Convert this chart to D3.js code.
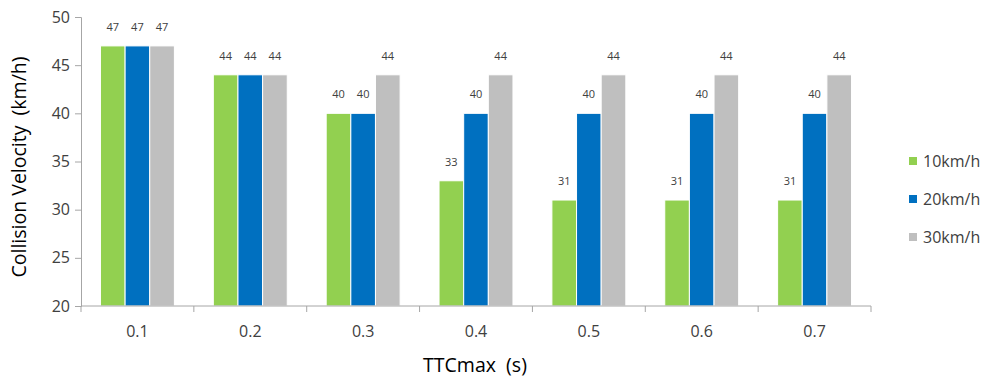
<!DOCTYPE html>
<html>
<head>
<meta charset="utf-8">
<script src="https://cdn.jsdelivr.net/npm/d3@7"></script>
<style>
  html, body { margin: 0; padding: 0; background: #fff; }
  svg text { font-family: "Open Sans", "DejaVu Sans", sans-serif; }
</style>
</head>
<body>
<svg id="chart" width="984" height="377"></svg>
<script>
// TTCmax categories and collision velocities per initial speed
const categories = ["0.1", "0.2", "0.3", "0.4", "0.5", "0.6", "0.7"];
const seriesNames = ["10km/h", "20km/h", "30km/h"];
const speed10 = [47, 44, 40, 33, 31, 31, 31];
const speed20 = [47, 44, 40, 40, 40, 40, 40];
const speed30 = [47, 44, 44, 44, 44, 44, 44];
const yTicks = [20, 25, 30, 35, 40, 45, 50];
const colors = ["#92D050", "#0070C0", "#BFBFBF"];

const seriesValues = [speed10, speed20, speed30];

const svg = d3.select("#chart");
const m = { left: 81, right: 113, top: 17, bottom: 71 };
const W = 984, H = 377;
const plotW = W - m.left - m.right;
const plotH = H - m.top - m.bottom;

const g = svg.append("g").attr("transform", `translate(${m.left},${m.top})`);

const x0 = d3.scaleBand().domain(categories).range([0, plotW]).paddingInner(0.345).paddingOuter(0.1725);
const x1 = d3.scaleBand().domain(seriesNames).range([0, x0.bandwidth()]).padding(0);
const y = d3.scaleLinear().domain([20, 50]).range([plotH, 0]);

// Bars
const groups = g.selectAll("g.cat")
  .data(categories)
  .join("g")
  .attr("class", "cat")
  .attr("transform", c => `translate(${x0(c)},0)`);

groups.selectAll("rect")
  .data((c, i) => seriesNames.map((s, k) => ({ s, k, v: seriesValues[k][i] })))
  .join("rect")
  .attr("x", d => x1(d.s))
  .attr("y", d => y(d.v))
  .attr("width", x1.bandwidth())
  .attr("height", d => plotH - y(d.v))
  .attr("fill", d => colors[d.k])
  .attr("stroke", "#fff")
  .attr("stroke-width", 1);

// Value labels
groups.selectAll("text.val")
  .data((c, i) => seriesNames.map((s, k) => ({ s, k, v: seriesValues[k][i] })))
  .join("text")
  .attr("class", "val")
  .attr("x", d => x1(d.s) + x1.bandwidth() / 2)
  .attr("y", d => y(d.v) - 15)
  .attr("text-anchor", "middle")
  .attr("font-size", 11)
  .attr("fill", "#404040")
  .text(d => d.v);

// Y axis
const yAxis = g.append("g")
  .call(d3.axisLeft(y).tickValues(yTicks).tickSize(6).tickPadding(5));
yAxis.select(".domain").attr("stroke", "#A6A6A6");
yAxis.selectAll(".tick line").attr("stroke", "#A6A6A6");
yAxis.selectAll(".tick text").attr("font-size", 16).attr("fill", "#404040")
  .attr("font-family", "'Open Sans', 'DejaVu Sans', sans-serif");

// X axis with boundary ticks between categories
const xAxisG = g.append("g").attr("transform", `translate(0,${plotH})`);
xAxisG.append("line")
  .attr("x1", 0).attr("x2", plotW)
  .attr("stroke", "#A6A6A6");
const step = x0.step();
d3.range(categories.length + 1).forEach(i => {
  xAxisG.append("line")
    .attr("x1", i * step).attr("x2", i * step)
    .attr("y1", 0).attr("y2", 6)
    .attr("stroke", "#A6A6A6");
});
xAxisG.selectAll("text.xl")
  .data(categories)
  .join("text")
  .attr("class", "xl")
  .attr("x", c => x0(c) + x0.bandwidth() / 2)
  .attr("y", 31)
  .attr("text-anchor", "middle")
  .attr("font-size", 16)
  .attr("fill", "#404040")
  .text(c => c);

// Axis titles
svg.append("text")
  .attr("x", 475)
  .attr("y", 372)
  .attr("text-anchor", "middle")
  .attr("font-size", 19.5)
  .attr("fill", "#000")
  .style("white-space", "pre")
  .text("TTCmax  (s)");

svg.append("text")
  .attr("transform", "translate(26,167) rotate(-90)")
  .attr("text-anchor", "middle")
  .attr("font-size", 19.5)
  .attr("fill", "#000")
  .style("white-space", "pre")
  .text("Collision Velocity  (km/h)");

// Legend
const legend = svg.append("g").attr("transform", "translate(909,161)");
seriesNames.forEach((s, k) => {
  const row = legend.append("g").attr("transform", `translate(0,${k * 38})`);
  row.append("rect").attr("x", 0).attr("y", -4).attr("width", 8).attr("height", 8).attr("fill", colors[k]);
  row.append("text").attr("x", 14).attr("y", 6).attr("font-size", 16).attr("fill", "#404040").text(s);
});
</script>
</body>
</html>
